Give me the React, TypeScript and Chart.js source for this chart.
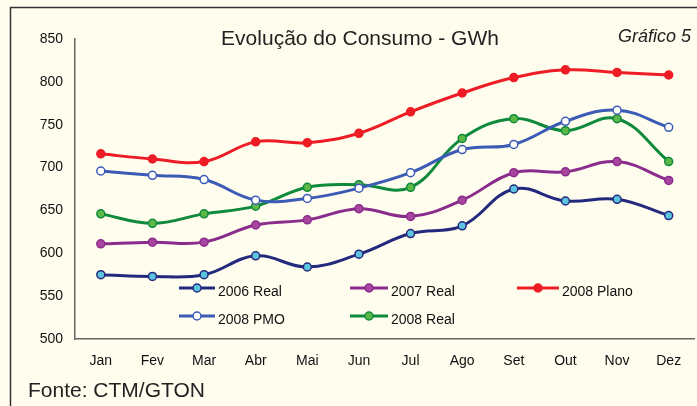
import React, { useEffect, useRef } from "react";
import { Chart, registerables } from "chart.js";

Chart.register(...registerables);

const months = ["Jan", "Fev", "Mar", "Abr", "Mai", "Jun", "Jul", "Ago", "Set", "Out", "Nov", "Dez"];
const real2006 = [575, 573, 575, 597, 584, 599, 623, 632, 675, 661, 663, 644];
const real2007 = [611, 613, 613, 633, 639, 652, 643, 662, 694, 695, 707, 685];
const plano2008 = [716, 710, 707, 730, 729, 740, 765, 787, 805, 814, 811, 808];
const pmo2008 = [696, 691, 686, 662, 664, 676, 694, 721, 727, 754, 767, 747];
const real2008 = [646, 635, 646, 655, 677, 680, 677, 734, 757, 743, 757, 707];
const yTicks = [500, 550, 600, 650, 700, 750, 800, 850];

const FONT = "'Liberation Sans', Arial, Helvetica, sans-serif";

const legendPos = [
  { x0: 179, x1: 215, y: 288 },
  { x0: 350, x1: 388, y: 288 },
  { x0: 517, x1: 559, y: 288 },
  { x0: 179, x1: 215, y: 316 },
  { x0: 350, x1: 388, y: 316 },
];

const decorPlugin = {
  id: "decor",
  beforeDraw(chart: any) {
    const ctx = chart.ctx;
    ctx.save();
    ctx.fillStyle = "#FFFDEE";
    ctx.fillRect(0, 0, chart.width, chart.height);
    ctx.strokeStyle = "#333333";
    ctx.lineWidth = 1.5;
    ctx.beginPath();
    ctx.moveTo(10.5, 420);
    ctx.lineTo(10.5, 7.5);
    ctx.lineTo(chart.width, 7.5);
    ctx.stroke();
    ctx.restore();
  },
  afterDraw(chart: any) {
    const ctx = chart.ctx;
    ctx.save();
    ctx.fillStyle = "#222222";
    ctx.textBaseline = "alphabetic";
    ctx.font = `21px ${FONT}`;
    ctx.textAlign = "center";
    ctx.fillText("Evolução do Consumo - GWh", 360, 45);
    ctx.font = `italic 18px ${FONT}`;
    ctx.textAlign = "left";
    ctx.fillText("Gráfico 5", 618, 42);
    ctx.font = `21px ${FONT}`;
    ctx.fillText("Fonte: CTM/GTON", 28, 397);

    // legend
    chart.data.datasets.forEach((ds: any, i: number) => {
      const p = legendPos[i];
      if (!p) return;
      ctx.strokeStyle = ds.borderColor;
      ctx.lineWidth = 3;
      ctx.beginPath();
      ctx.moveTo(p.x0, p.y);
      ctx.lineTo(p.x1, p.y);
      ctx.stroke();
      ctx.beginPath();
      ctx.arc((p.x0 + p.x1) / 2, p.y, 4, 0, Math.PI * 2);
      ctx.fillStyle = ds.pointBackgroundColor;
      ctx.fill();
      ctx.lineWidth = 1.5;
      ctx.strokeStyle = ds.pointBorderColor;
      ctx.stroke();
      ctx.fillStyle = "#111111";
      ctx.font = `14px ${FONT}`;
      ctx.textAlign = "left";
      ctx.fillText(ds.label, p.x1 + 3, p.y + 8);
    });
    ctx.restore();
  },
};

function mk(label: string, data: number[], line: string, fill: string, border: string) {
  return {
    label,
    data,
    borderColor: line,
    backgroundColor: line,
    pointBackgroundColor: fill,
    pointBorderColor: border,
    pointBorderWidth: 1.5,
    pointRadius: 4,
    borderWidth: 3,
    tension: 0.4,
    fill: false,
  };
}

export default function App() {
  const ref = useRef<HTMLCanvasElement | null>(null);
  useEffect(() => {
    document.body.style.margin = "0";
    if (!ref.current) return;
    const chart = new Chart(ref.current, {
      type: "line",
      data: {
        labels: months,
        datasets: [
          mk("2006 Real", real2006, "#232A7E", "#5CC4DF", "#232A7E"),
          mk("2007 Real", real2007, "#8A2C8C", "#A8459F", "#8A2C8C"),
          mk("2008 Plano", plano2008, "#EE1C25", "#EE1C25", "#EE1C25"),
          mk("2008 PMO", pmo2008, "#3B5BB5", "#FFFFFF", "#3B5BB5"),
          mk("2008 Real", real2008, "#0F8A3C", "#5DB847", "#0F8A3C"),
        ] as any,
      },
      options: {
        responsive: false,
        animation: false,
        layout: { padding: { top: 39, left: 0, right: 0, bottom: 27 } },
        plugins: {
          legend: { display: false },
          title: { display: false },
          tooltip: { enabled: false },
        },
        scales: {
          x: {
            offset: true,
            grid: { display: false, drawTicks: false },
            border: { display: true, color: "#666666", width: 1.5 },
            ticks: { color: "#111111", font: { family: FONT, size: 14 }, padding: 14, maxRotation: 0 },
            afterFit: (s: any) => {
              s.height = 40;
            },
          },
          y: {
            min: 500,
            max: 850,
            afterBuildTicks: (s: any) => {
              s.ticks = yTicks.map((v) => ({ value: v }));
            },
            grid: { display: false, drawTicks: false },
            border: { display: true, color: "#666666", width: 1.5 },
            ticks: { color: "#111111", font: { family: FONT, size: 14 }, padding: 12 },
            afterFit: (s: any) => {
              s.width = 75;
            },
          },
        },
      },
      plugins: [decorPlugin],
    });
    return () => chart.destroy();
  }, []);
  return (
    <div style={{ position: "fixed", left: 0, top: 0, width: 697, height: 406, overflow: "hidden", background: "#FFFDEE" }}>
      <canvas ref={ref} width={700} height={406} style={{ display: "block", width: 700, height: 406 }} />
    </div>
  );
}
